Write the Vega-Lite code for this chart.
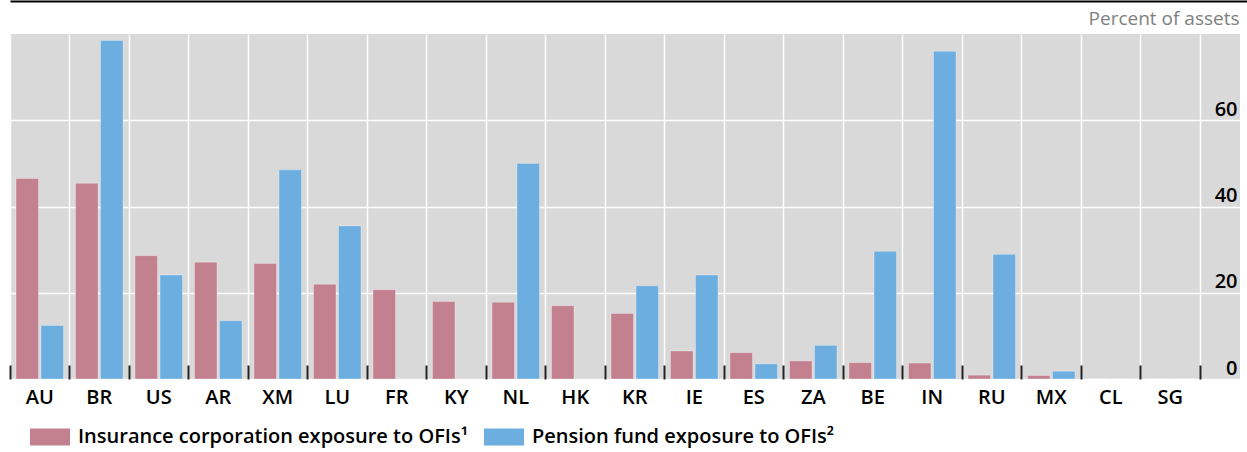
{
  "$schema": "https://vega.github.io/schema/vega-lite/v6.json",
  "width": 1230,
  "height": 345,
  "autosize": {"type": "none"},
  "padding": {"left": 10, "top": 34, "right": 7, "bottom": 73},
  "background": "white",
  "config": {"font": "Open Sans", "view": {"fill": "#d9d9d9", "stroke": null}},
  "data": {"values": [
    {"country": "AU", "series": "Insurance corporation exposure to OFIs¹", "value": 46.5},
    {"country": "AU", "series": "Pension fund exposure to OFIs²", "value": 12.4},
    {"country": "BR", "series": "Insurance corporation exposure to OFIs¹", "value": 45.4},
    {"country": "BR", "series": "Pension fund exposure to OFIs²", "value": 78.5},
    {"country": "US", "series": "Insurance corporation exposure to OFIs¹", "value": 28.6},
    {"country": "US", "series": "Pension fund exposure to OFIs²", "value": 24.1},
    {"country": "AR", "series": "Insurance corporation exposure to OFIs¹", "value": 27.1},
    {"country": "AR", "series": "Pension fund exposure to OFIs²", "value": 13.5},
    {"country": "XM", "series": "Insurance corporation exposure to OFIs¹", "value": 26.8},
    {"country": "XM", "series": "Pension fund exposure to OFIs²", "value": 48.5},
    {"country": "LU", "series": "Insurance corporation exposure to OFIs¹", "value": 22.0},
    {"country": "LU", "series": "Pension fund exposure to OFIs²", "value": 35.5},
    {"country": "FR", "series": "Insurance corporation exposure to OFIs¹", "value": 20.7},
    {"country": "KY", "series": "Insurance corporation exposure to OFIs¹", "value": 18.0},
    {"country": "NL", "series": "Insurance corporation exposure to OFIs¹", "value": 17.8},
    {"country": "NL", "series": "Pension fund exposure to OFIs²", "value": 50.0},
    {"country": "HK", "series": "Insurance corporation exposure to OFIs¹", "value": 17.0},
    {"country": "KR", "series": "Insurance corporation exposure to OFIs¹", "value": 15.2},
    {"country": "KR", "series": "Pension fund exposure to OFIs²", "value": 21.6},
    {"country": "IE", "series": "Insurance corporation exposure to OFIs¹", "value": 6.5},
    {"country": "IE", "series": "Pension fund exposure to OFIs²", "value": 24.1},
    {"country": "ES", "series": "Insurance corporation exposure to OFIs¹", "value": 6.1},
    {"country": "ES", "series": "Pension fund exposure to OFIs²", "value": 3.5},
    {"country": "ZA", "series": "Insurance corporation exposure to OFIs¹", "value": 4.2},
    {"country": "ZA", "series": "Pension fund exposure to OFIs²", "value": 7.8},
    {"country": "BE", "series": "Insurance corporation exposure to OFIs¹", "value": 3.8},
    {"country": "BE", "series": "Pension fund exposure to OFIs²", "value": 29.6},
    {"country": "IN", "series": "Insurance corporation exposure to OFIs¹", "value": 3.7},
    {"country": "IN", "series": "Pension fund exposure to OFIs²", "value": 76.0},
    {"country": "RU", "series": "Insurance corporation exposure to OFIs¹", "value": 0.9},
    {"country": "RU", "series": "Pension fund exposure to OFIs²", "value": 28.9},
    {"country": "MX", "series": "Insurance corporation exposure to OFIs¹", "value": 0.8},
    {"country": "MX", "series": "Pension fund exposure to OFIs²", "value": 1.8},
    {"country": "CL", "series": "Insurance corporation exposure to OFIs¹", "value": 0},
    {"country": "CL", "series": "Pension fund exposure to OFIs²", "value": 0},
    {"country": "SG", "series": "Insurance corporation exposure to OFIs¹", "value": 0},
    {"country": "SG", "series": "Pension fund exposure to OFIs²", "value": 0}
  ]},
  "resolve": {"axis": {"x": "independent"}},
  "layer": [
    {
      "mark": {"type": "bar", "stroke": "#ffffff", "strokeOpacity": 0.3, "strokeWidth": 1},
      "encoding": {
        "x": {
          "field": "country", "type": "nominal",
          "scale": {"domain": ["AU","BR","US","AR","XM","LU","FR","KY","NL","HK","KR","IE","ES","ZA","BE","IN","RU","MX","CL","SG","END"], "range": [0, 1249.5], "paddingInner": 0, "paddingOuter": 0},
          "axis": {"orient": "bottom", "title": null, "bandPosition": 0, "grid": true, "gridColor": "#ffffff", "gridWidth": 1.5, "domain": false, "ticks": true, "tickSize": -14, "tickColor": "#222222", "tickWidth": 2, "labelAngle": 0, "labelFontSize": 20, "labelFontWeight": 600, "labelColor": "#000000", "labelPadding": 22, "labelExpr": "datum.value == 'END' ? '' : datum.value", "labelBound": false, "labelOverlap": false}
        },
        "xOffset": {"field": "series", "type": "nominal", "scale": {"paddingInner": 0.1, "paddingOuter": 0.24}},
        "y": {
          "field": "value", "type": "quantitative",
          "scale": {"domain": [0, 80], "nice": false},
          "axis": {"orient": "right", "title": null, "values": [0, 20, 40, 60], "grid": true, "gridColor": "#ffffff", "gridWidth": 1.5, "domain": false, "ticks": false, "labelAlign": "right", "labelPadding": -3, "labelBaseline": "alphabetic", "labelOffset": -5, "labelFontSize": 20, "labelFontWeight": 600, "labelColor": "#000000"}
        },
        "color": {
          "field": "series", "type": "nominal",
          "scale": {"domain": ["Insurance corporation exposure to OFIs¹", "Pension fund exposure to OFIs²"], "range": ["#c3808f", "#6caee0"]},
          "legend": {"orient": "none", "legendX": 20, "legendY": 383, "direction": "horizontal", "title": null, "symbolType": "M-1,-0.42H1V0.42H-1Z", "symbolSize": 1600, "symbolStrokeWidth": 0, "labelFontSize": 20, "labelFontWeight": 600, "labelLimit": 0, "labelColor": "#000000", "columnPadding": 16, "labelOffset": 8}
        }
      }
    },
    {
      "mark": {"type": "tick", "opacity": 0},
      "encoding": {
        "x": {"field": "country", "type": "nominal", "axis": {"orient": "top", "title": "Percent of assets", "titleX": 1229, "titleY": 23, "titleAlign": "right", "titleAnchor": null, "titleBaseline": "alphabetic", "titleFontSize": 19, "titleFontWeight": "normal", "titleColor": "#808080", "labels": false, "ticks": false, "grid": false, "domain": true, "domainColor": "#000000", "domainWidth": 2, "offset": 33}}
      }
    }
  ]
}
